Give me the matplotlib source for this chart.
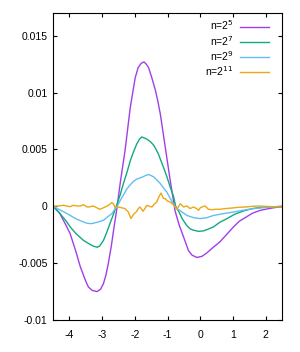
import matplotlib
matplotlib.use("Agg")
import matplotlib.pyplot as plt
from matplotlib.ticker import FuncFormatter

plt.rcParams['font.family'] = ['Liberation Sans', 'DejaVu Sans']

# 数据：近似值
x_n5 = [-4.5, -4.3, -4.1, -3.98, -3.8, -3.67, -3.5, -3.42, -3.3, -3.16, -3.05, -2.96,
        -2.88, -2.81, -2.72, -2.65, -2.55, -2.45, -2.3, -2.14, -1.99, -1.9, -1.8, -1.72,
        -1.65, -1.58, -1.48, -1.38, -1.3, -1.22, -1.07, -0.92, -0.77, -0.65, -0.51, -0.36,
        -0.25, -0.1, 0.05, 0.2, 0.4, 0.61, 0.8, 1.02, 1.2, 1.43, 1.6, 1.84, 2.1, 2.3, 2.5]
y_n5 = [0, -0.0006, -0.0017, -0.0024, -0.004, -0.0053, -0.0066, -0.0071, -0.0074, -0.0075,
        -0.0073, -0.0068, -0.006, -0.005, -0.0035, -0.0021, -0.0002, 0.002, 0.0049, 0.0087,
        0.0113, 0.0122, 0.0126, 0.0127, 0.0125, 0.0122, 0.0113, 0.0103, 0.0093, 0.0081,
        0.0052, 0.0023, -0.0004, -0.0016, -0.0027, -0.0039, -0.0043, -0.0045, -0.0044,
        -0.0041, -0.0036, -0.0031, -0.0025, -0.0018, -0.0013, -0.0009, -0.0006, -0.00035,
        -0.0002, -0.0001, -0.00005]

x_n7 = [-4.5, -4.3, -4.1, -3.98, -3.8, -3.57, -3.4, -3.27, -3.15, -3.08, -2.96, -2.86,
        -2.76, -2.68, -2.58, -2.45, -2.35, -2.24, -2.14, -2.04, -1.94, -1.86, -1.79, -1.7,
        -1.63, -1.53, -1.43, -1.35, -1.28, -1.2, -1.12, -1.02, -0.92, -0.82, -0.75, -0.65,
        -0.55, -0.41, -0.3, -0.21, -0.05, 0.1, 0.25, 0.41, 0.6, 0.82, 1.05, 1.33, 1.6,
        1.84, 2.2, 2.5]
y_n7 = [0, -0.0006, -0.0013, -0.0018, -0.0024, -0.003, -0.0033, -0.0035, -0.0036, -0.0035,
        -0.003, -0.0023, -0.0015, -0.0009, -0.0001, 0.001, 0.002, 0.003, 0.004, 0.0048,
        0.0055, 0.0059, 0.0061, 0.006, 0.0059, 0.0057, 0.0054, 0.005, 0.0046, 0.004, 0.0034,
        0.0026, 0.0017, 0.0009, 0.0, -0.0005, -0.0011, -0.0017, -0.002, -0.0021, -0.0022,
        -0.00216, -0.002, -0.0018, -0.0014, -0.00108, -0.0007, -0.0004, -0.0002, -0.0001,
        -0.00005, 0]

x_n9 = [-4.5, -4.3, -4.1, -3.98, -3.8, -3.57, -3.45, -3.32, -3.15, -2.96, -2.82, -2.7,
        -2.6, -2.52, -2.45, -2.35, -2.24, -2.14, -2.04, -1.94, -1.84, -1.75, -1.68, -1.58,
        -1.5, -1.43, -1.32, -1.22, -1.12, -1.02, -0.92, -0.82, -0.72, -0.56, -0.41, -0.2,
        0.0, 0.2, 0.41, 0.7, 1.02, 1.3, 1.63, 2.0, 2.5]
y_n9 = [0, -0.0003, -0.0006, -0.0008, -0.0011, -0.00138, -0.0015, -0.00152, -0.0014,
        -0.00123, -0.0009, -0.00064, -0.0002, 0.0001, 0.0005, 0.001, 0.00155, 0.0019, 0.0022,
        0.0024, 0.0025, 0.0026, 0.0027, 0.0028, 0.0027, 0.0026, 0.0023, 0.002, 0.0016,
        0.00125, 0.0007, 0.0002, -0.0002, -0.0005, -0.0008, -0.001, -0.00108, -0.001,
        -0.0008, -0.00065, -0.0005, -0.00035, -0.0002, -0.0001, 0]

x_n11 = [-4.5, -4.35, -4.18, -4.08, -3.98, -3.88, -3.77, -3.67, -3.57, -3.47, -3.42, -3.27,
         -3.16, -3.08, -3.0, -2.91, -2.81, -2.7, -2.65, -2.6, -2.5, -2.4, -2.3, -2.2, -2.12,
         -2.04, -1.96, -1.89, -1.84, -1.75, -1.63, -1.56, -1.48, -1.41, -1.33, -1.27, -1.2,
         -1.12, -1.07, -1.01, -0.92, -0.84, -0.77, -0.71, -0.66, -0.61, -0.56, -0.51, -0.41,
         -0.31, -0.21, -0.12, -0.05, 0.0, 0.05, 0.15, 0.25, 0.36, 0.46, 0.61, 0.76, 0.97,
         1.16, 1.38, 1.59, 1.78, 1.99, 2.2, 2.5]
y_n11 = [0, 0.00003, 0.00009, 0.00003, -0.00003, 0.00009, 0.00003, 0.00003, 0.00015, -0.00005,
         -0.00006, 0.00003, -0.00013, -0.00026, -0.00018, -0.00006, 0.00009, 0.00032, 0.0002,
         -0.00015, -0.00006, -0.00013, -0.0002, -0.0005, -0.00108, -0.0007, -0.0005, -0.00018,
         -0.00006, -0.00044, 0.00009, 0.0, -0.00006, 0.00018, 0.00038, 0.0008, 0.00117,
         0.00068, 0.00068, 0.00048, 0.00038, 0.00018, -0.00006, -0.00026, 0.0, 0.00023,
         0.00009, -0.00006, 0.00003, -0.0002, -0.00006, -0.00018, -0.00035, -0.00013, -0.00006,
         0.00003, -0.00026, -0.0003, -0.00026, -0.00026, -0.0002, -0.00015, -0.00009, -0.00006,
         0.0, 0.00003, 0.0, -0.00003, -0.00004]

series = [
    (x_n5, y_n5, 'n=2$^{5}$', '#a23ee8'),
    (x_n7, y_n7, 'n=2$^{7}$', '#12a882'),
    (x_n9, y_n9, 'n=2$^{9}$', '#62bef0'),
    (x_n11, y_n11, 'n=2$^{11}$', '#eca714'),
]

x_ticks = [-4, -3, -2, -1, 0, 1, 2]
y_ticks = [-0.01, -0.005, 0, 0.005, 0.01, 0.015]

fig = plt.figure(figsize=(3.0, 3.52), dpi=100)
ax = fig.add_axes([0.177, 0.0909, 0.763, 0.872])

for xs, ys, lab, col in series:
    ax.plot(xs, ys, color=col, lw=1.0, label=lab)

ax.set_xlim(-4.5, 2.5)
ax.set_ylim(-0.01, 0.017)
ax.set_xticks(x_ticks)
ax.set_yticks(y_ticks)
ax.yaxis.set_major_formatter(FuncFormatter(lambda v, p: '%g' % v))
ax.xaxis.set_major_formatter(FuncFormatter(lambda v, p: '%g' % v))
ax.tick_params(direction='in', top=True, right=True, length=3, width=0.8, labelsize=7.5)
ax.tick_params(axis='x', pad=7)
ax.tick_params(axis='y', pad=4)
for s in ax.spines.values():
    s.set_linewidth(0.8)

# 图例：文字右对齐，线段在右
ax.legend(loc='upper right', bbox_to_anchor=(0.943, 0.982), frameon=False,
          markerfirst=False, fontsize=7.5, handlelength=2.8, handletextpad=0.6,
          labelspacing=0.13, borderaxespad=0, borderpad=0)

fig.savefig('out.png', dpi=100)
